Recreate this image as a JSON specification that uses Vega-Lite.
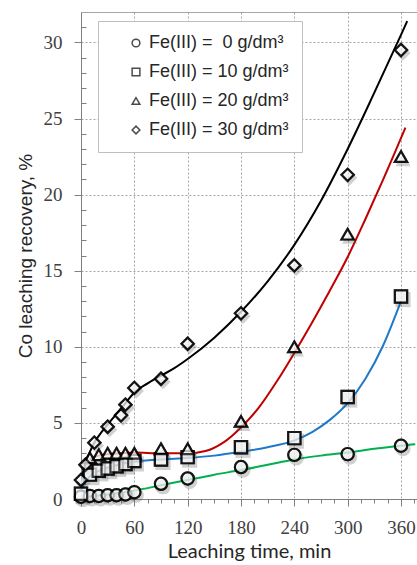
{
  "$schema": "https://vega.github.io/schema/vega-lite/v6.json",
  "width": 336,
  "height": 487,
  "autosize": {"type": "none"},
  "padding": {"left": 81, "top": 12, "right": 0, "bottom": 66},
  "background": "white",
  "config": {
    "font": "Liberation Sans",
    "view": {"stroke": "#a6a6a6", "strokeWidth": 1}
  },
  "datasets": {
    "measured": [
      {"t": 0, "v": 0.15, "s": "Fe(III) =\u00a0 0 g/dm³"},
      {"t": 10, "v": 0.2, "s": "Fe(III) =\u00a0 0 g/dm³"},
      {"t": 20, "v": 0.2, "s": "Fe(III) =\u00a0 0 g/dm³"},
      {"t": 30, "v": 0.25, "s": "Fe(III) =\u00a0 0 g/dm³"},
      {"t": 40, "v": 0.25, "s": "Fe(III) =\u00a0 0 g/dm³"},
      {"t": 50, "v": 0.3, "s": "Fe(III) =\u00a0 0 g/dm³"},
      {"t": 60, "v": 0.45, "s": "Fe(III) =\u00a0 0 g/dm³"},
      {"t": 90, "v": 1.0, "s": "Fe(III) =\u00a0 0 g/dm³"},
      {"t": 120, "v": 1.35, "s": "Fe(III) =\u00a0 0 g/dm³"},
      {"t": 180, "v": 2.1, "s": "Fe(III) =\u00a0 0 g/dm³"},
      {"t": 240, "v": 2.9, "s": "Fe(III) =\u00a0 0 g/dm³"},
      {"t": 300, "v": 2.95, "s": "Fe(III) =\u00a0 0 g/dm³"},
      {"t": 360, "v": 3.5, "s": "Fe(III) =\u00a0 0 g/dm³"},
      {"t": 0, "v": 0.35, "s": "Fe(III) = 10 g/dm³"},
      {"t": 10, "v": 1.6, "s": "Fe(III) = 10 g/dm³"},
      {"t": 20, "v": 1.85, "s": "Fe(III) = 10 g/dm³"},
      {"t": 30, "v": 2.0, "s": "Fe(III) = 10 g/dm³"},
      {"t": 40, "v": 2.15, "s": "Fe(III) = 10 g/dm³"},
      {"t": 50, "v": 2.3, "s": "Fe(III) = 10 g/dm³"},
      {"t": 60, "v": 2.5, "s": "Fe(III) = 10 g/dm³"},
      {"t": 90, "v": 2.6, "s": "Fe(III) = 10 g/dm³"},
      {"t": 120, "v": 2.75, "s": "Fe(III) = 10 g/dm³"},
      {"t": 180, "v": 3.4, "s": "Fe(III) = 10 g/dm³"},
      {"t": 240, "v": 4.0, "s": "Fe(III) = 10 g/dm³"},
      {"t": 300, "v": 6.7, "s": "Fe(III) = 10 g/dm³"},
      {"t": 360, "v": 13.3, "s": "Fe(III) = 10 g/dm³"},
      {"t": 10, "v": 2.7, "s": "Fe(III) = 20 g/dm³"},
      {"t": 20, "v": 2.9, "s": "Fe(III) = 20 g/dm³"},
      {"t": 30, "v": 3.0, "s": "Fe(III) = 20 g/dm³"},
      {"t": 40, "v": 3.0, "s": "Fe(III) = 20 g/dm³"},
      {"t": 50, "v": 3.0, "s": "Fe(III) = 20 g/dm³"},
      {"t": 60, "v": 3.0, "s": "Fe(III) = 20 g/dm³"},
      {"t": 90, "v": 3.3, "s": "Fe(III) = 20 g/dm³"},
      {"t": 120, "v": 3.3, "s": "Fe(III) = 20 g/dm³"},
      {"t": 180, "v": 5.1, "s": "Fe(III) = 20 g/dm³"},
      {"t": 240, "v": 10.0, "s": "Fe(III) = 20 g/dm³"},
      {"t": 300, "v": 17.4, "s": "Fe(III) = 20 g/dm³"},
      {"t": 360, "v": 22.5, "s": "Fe(III) = 20 g/dm³"},
      {"t": 0, "v": 1.25, "s": "Fe(III) = 30 g/dm³"},
      {"t": 5, "v": 2.25, "s": "Fe(III) = 30 g/dm³"},
      {"t": 15, "v": 3.7, "s": "Fe(III) = 30 g/dm³"},
      {"t": 30, "v": 4.75, "s": "Fe(III) = 30 g/dm³"},
      {"t": 45, "v": 5.5, "s": "Fe(III) = 30 g/dm³"},
      {"t": 50, "v": 6.2, "s": "Fe(III) = 30 g/dm³"},
      {"t": 60, "v": 7.3, "s": "Fe(III) = 30 g/dm³"},
      {"t": 90, "v": 7.9, "s": "Fe(III) = 30 g/dm³"},
      {"t": 120, "v": 10.2, "s": "Fe(III) = 30 g/dm³"},
      {"t": 180, "v": 12.2, "s": "Fe(III) = 30 g/dm³"},
      {"t": 240, "v": 15.35, "s": "Fe(III) = 30 g/dm³"},
      {"t": 300, "v": 21.3, "s": "Fe(III) = 30 g/dm³"},
      {"t": 360, "v": 29.5, "s": "Fe(III) = 30 g/dm³"}
    ],
    "fitted": [
      {"t": 0, "v": 0.1, "c": "0"},
      {"t": 30, "v": 0.3, "c": "0"},
      {"t": 60, "v": 0.55, "c": "0"},
      {"t": 90, "v": 0.9, "c": "0"},
      {"t": 120, "v": 1.25, "c": "0"},
      {"t": 150, "v": 1.6, "c": "0"},
      {"t": 180, "v": 1.9, "c": "0"},
      {"t": 210, "v": 2.25, "c": "0"},
      {"t": 240, "v": 2.6, "c": "0"},
      {"t": 270, "v": 2.85, "c": "0"},
      {"t": 300, "v": 3.05, "c": "0"},
      {"t": 330, "v": 3.3, "c": "0"},
      {"t": 360, "v": 3.5, "c": "0"},
      {"t": 376, "v": 3.6, "c": "0"},
      {"t": 0, "v": 0.6, "c": "10"},
      {"t": 10, "v": 1.5, "c": "10"},
      {"t": 20, "v": 1.85, "c": "10"},
      {"t": 30, "v": 2.05, "c": "10"},
      {"t": 45, "v": 2.3, "c": "10"},
      {"t": 60, "v": 2.45, "c": "10"},
      {"t": 90, "v": 2.6, "c": "10"},
      {"t": 120, "v": 2.7, "c": "10"},
      {"t": 150, "v": 2.85, "c": "10"},
      {"t": 180, "v": 3.1, "c": "10"},
      {"t": 210, "v": 3.4, "c": "10"},
      {"t": 240, "v": 3.85, "c": "10"},
      {"t": 260, "v": 4.4, "c": "10"},
      {"t": 280, "v": 5.2, "c": "10"},
      {"t": 300, "v": 6.3, "c": "10"},
      {"t": 320, "v": 7.9, "c": "10"},
      {"t": 340, "v": 10.1, "c": "10"},
      {"t": 360, "v": 13.0, "c": "10"},
      {"t": 10, "v": 2.6, "c": "20"},
      {"t": 20, "v": 2.85, "c": "20"},
      {"t": 30, "v": 2.95, "c": "20"},
      {"t": 45, "v": 3.0, "c": "20"},
      {"t": 60, "v": 3.05, "c": "20"},
      {"t": 90, "v": 3.0, "c": "20"},
      {"t": 120, "v": 3.0, "c": "20"},
      {"t": 140, "v": 3.15, "c": "20"},
      {"t": 160, "v": 3.7, "c": "20"},
      {"t": 180, "v": 4.7, "c": "20"},
      {"t": 200, "v": 6.0, "c": "20"},
      {"t": 220, "v": 7.7, "c": "20"},
      {"t": 240, "v": 9.6, "c": "20"},
      {"t": 260, "v": 11.6, "c": "20"},
      {"t": 280, "v": 13.7, "c": "20"},
      {"t": 300, "v": 15.9, "c": "20"},
      {"t": 320, "v": 18.4, "c": "20"},
      {"t": 340, "v": 21.0, "c": "20"},
      {"t": 365, "v": 24.4, "c": "20"},
      {"t": 0, "v": 1.3, "c": "30"},
      {"t": 5, "v": 2.3, "c": "30"},
      {"t": 10, "v": 3.1, "c": "30"},
      {"t": 15, "v": 3.7, "c": "30"},
      {"t": 20, "v": 4.15, "c": "30"},
      {"t": 30, "v": 4.9, "c": "30"},
      {"t": 40, "v": 5.6, "c": "30"},
      {"t": 50, "v": 6.3, "c": "30"},
      {"t": 60, "v": 7.0, "c": "30"},
      {"t": 75, "v": 7.6, "c": "30"},
      {"t": 90, "v": 8.1, "c": "30"},
      {"t": 105, "v": 8.6, "c": "30"},
      {"t": 120, "v": 9.2, "c": "30"},
      {"t": 150, "v": 10.6, "c": "30"},
      {"t": 180, "v": 12.3, "c": "30"},
      {"t": 210, "v": 14.3, "c": "30"},
      {"t": 240, "v": 16.7, "c": "30"},
      {"t": 270, "v": 19.6, "c": "30"},
      {"t": 300, "v": 23.0, "c": "30"},
      {"t": 330, "v": 26.7, "c": "30"},
      {"t": 360, "v": 30.5, "c": "30"},
      {"t": 367, "v": 31.4, "c": "30"}
    ]
  },
  "encoding": {
    "x": {
      "field": "t",
      "type": "quantitative",
      "scale": {"domain": [0, 378], "nice": false, "zero": false},
      "axis": {
        "title": "Leaching time, min",
        "values": [0, 15, 30, 45, 60, 75, 90, 105, 120, 135, 150, 165, 180, 195, 210, 225, 240, 255, 270, 285, 300, 315, 330, 345, 360, 375],
        "labelExpr": "datum.value % 60 === 0 ? datum.label : ''",
        "labelOverlap": false,
        "labelFlush": false,
        "labelFont": "Liberation Sans Narrow",
        "labelFontSize": 19,
        "labelColor": "#404040",
        "labelPadding": 12,
        "tickSize": {"condition": {"test": "datum.value % 60 === 0", "value": 7}, "value": 4},
        "tickColor": "#7f7f7f",
        "domainColor": "#7f7f7f",
        "grid": true,
        "gridDash": [2, 2],
        "gridColor": "#a6a6a6",
        "gridOpacity": {"condition": {"test": "datum.value % 60 === 0 && datum.value > 0", "value": 1}, "value": 0},
        "titleFont": "Lato",
        "titleFontSize": 20,
        "titleFontWeight": "normal",
        "titleColor": "#262626",
        "titlePadding": 4
      }
    },
    "y": {
      "field": "v",
      "type": "quantitative",
      "scale": {"domain": [0, 32], "nice": false},
      "axis": {
        "title": "Co leaching recovery, %",
        "values": [0, 1, 2, 3, 4, 5, 6, 7, 8, 9, 10, 11, 12, 13, 14, 15, 16, 17, 18, 19, 20, 21, 22, 23, 24, 25, 26, 27, 28, 29, 30, 31],
        "labelExpr": "datum.value % 5 === 0 ? datum.label : ''",
        "labelOverlap": false,
        "labelFlush": false,
        "labelFont": "Liberation Sans Narrow",
        "labelFontSize": 19,
        "labelColor": "#404040",
        "labelPadding": 12,
        "tickSize": {"condition": {"test": "datum.value % 5 === 0", "value": 7}, "value": -5},
        "tickColor": "#7f7f7f",
        "domainColor": "#7f7f7f",
        "grid": true,
        "gridDash": [2, 2],
        "gridColor": "#a6a6a6",
        "gridOpacity": {"condition": {"test": "datum.value % 5 === 0 && datum.value > 0", "value": 1}, "value": 0},
        "titleFont": "Liberation Sans",
        "titleFontSize": 19,
        "titleFontWeight": "normal",
        "titleColor": "#262626",
        "titlePadding": 8
      }
    }
  },
  "layer": [
    {
      "data": {"name": "fitted"},
      "mark": {"type": "line", "strokeWidth": 2, "interpolate": "monotone", "clip": true},
      "encoding": {
        "stroke": {
          "field": "c",
          "type": "nominal",
          "scale": {
            "domain": ["0", "10", "20", "30"],
            "range": ["#00b050", "#1f78c8", "#c00000", "#000000"]
          },
          "legend": null
        },
        "detail": {"field": "c"}
      }
    },
    {
      "data": {"name": "measured"},
      "transform": [{"filter": "datum.s === 'Fe(III) =\u00a0 0 g/dm³'"}],
      "mark": {"type": "point", "shape": "circle", "filled": true, "fill": "#555555", "opacity": 0.28, "strokeWidth": 0, "size": 230, "xOffset": 2, "yOffset": 3},
      "encoding": {}
    },
    {
      "data": {"name": "measured"},
      "transform": [{"filter": "datum.s === 'Fe(III) = 10 g/dm³'"}],
      "mark": {"type": "point", "shape": "square", "filled": true, "fill": "#555555", "opacity": 0.28, "strokeWidth": 0, "size": 230, "xOffset": 2, "yOffset": 3},
      "encoding": {}
    },
    {
      "data": {"name": "measured"},
      "transform": [{"filter": "datum.s === 'Fe(III) = 20 g/dm³'"}],
      "mark": {"type": "point", "shape": "triangle-up", "filled": true, "fill": "#555555", "opacity": 0.28, "strokeWidth": 0, "size": 230, "xOffset": 2, "yOffset": 3},
      "encoding": {}
    },
    {
      "data": {"name": "measured"},
      "transform": [{"filter": "datum.s === 'Fe(III) = 30 g/dm³'"}],
      "mark": {"type": "point", "shape": "diamond", "filled": true, "fill": "#555555", "opacity": 0.28, "strokeWidth": 0, "size": 230, "xOffset": 2, "yOffset": 3},
      "encoding": {}
    },
    {
      "data": {"name": "measured"},
      "mark": {"type": "point", "filled": false, "color": "black", "strokeWidth": 2.2, "size": 150},
      "encoding": {
        "shape": {
          "field": "s",
          "type": "nominal",
          "scale": {
            "domain": ["Fe(III) =\u00a0 0 g/dm³", "Fe(III) = 10 g/dm³", "Fe(III) = 20 g/dm³", "Fe(III) = 30 g/dm³"],
            "range": ["circle", "square", "triangle-up", "diamond"]
          },
          "legend": {
            "title": null,
            "orient": "none",
            "legendX": 17,
            "legendY": 9,
            "padding": 13,
            "fillColor": "white",
            "strokeColor": "#bfbfbf",
            "symbolOffset": 16,
            "symbolSize": 60,
            "labelFont": "Liberation Sans",
            "labelFontSize": 18,
            "labelColor": "#262626",
            "labelLimit": 300,
            "rowPadding": 11
          }
        }
      }
    },
    {
      "data": {"name": "measured"},
      "mark": {"type": "point", "filled": true, "fill": "white", "stroke": "black", "strokeWidth": 2.2, "size": 150},
      "encoding": {
        "shape": {
          "field": "s",
          "type": "nominal",
          "legend": null
        }
      }
    }
  ]
}
